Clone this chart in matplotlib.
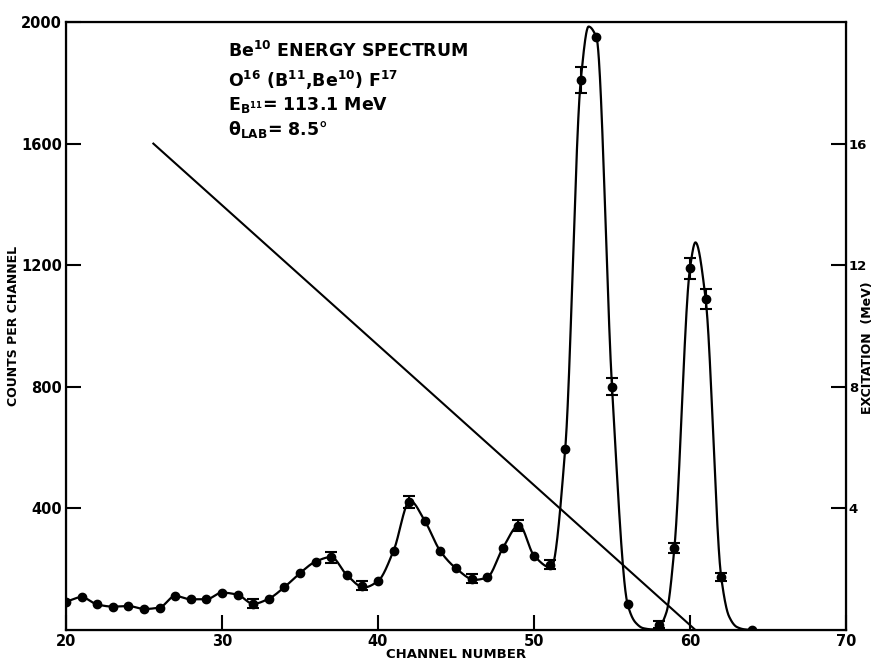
import numpy as np
import matplotlib
matplotlib.use("Agg")
import matplotlib.pyplot as plt

# ---- data ----
channels = [20, 21, 22, 23, 24, 25, 26, 27, 28, 29, 30, 31, 32, 33, 34, 35, 36, 37, 38, 39,
            40, 41, 42, 43, 44, 45, 46, 47, 48, 49, 50, 51, 52, 53, 54, 55, 56, 58, 59, 60,
            61, 62, 64]
counts = [93, 108, 84, 77, 79, 69, 74, 112, 101, 101, 123, 116, 86, 103, 141, 187, 225, 239, 181, 145,
          161, 261, 420, 359, 259, 203, 168, 173, 269, 343, 245, 215, 595, 1810, 1950, 800, 85, 18, 270, 1190,
          1090, 174, 0]

err_channels = [32, 37, 39, 42, 46, 49, 51, 53, 55, 58, 59, 60, 61, 62]
err_counts = [86, 239, 145, 420, 168, 343, 215, 1810, 800, 18, 270, 1190, 1090, 174]
err_sizes = [15, 17, 15, 20, 15, 18, 15, 42, 28, 12, 16, 34, 33, 13]

# hand-drawn fit curve knots
curve_ch = [20, 21, 22, 23, 24, 25, 26, 27, 28, 29, 30, 31, 32, 33, 34, 35, 36, 37, 38, 39.1,
            40, 41, 42.05, 43, 44, 45, 46.2, 47, 48, 49.05, 50, 51.1, 52, 53, 53.5, 54, 55, 56,
            56.5, 57, 57.6, 58, 58.5, 59, 60, 60.35, 61, 62, 62.5, 63, 63.5, 64]
curve_counts = [93, 108, 84, 77, 79, 69, 74, 112, 101, 101, 123, 116, 86, 103, 141, 187, 225, 240, 181, 140,
                161, 261, 425, 359, 259, 203, 165, 173, 269, 345, 245, 205, 595, 1810, 1985, 1950, 800, 85,
                25, 6, 2, 10, 60, 270, 1190, 1275, 1090, 174, 45, 10, 2, 0]

# excitation calibration line (channel, MeV)
calib_ch = [25.6, 60.35]
calib_mev = [16.0, 0.0]

xticks = [20, 30, 40, 50, 60, 70]
yticks = [400, 800, 1200, 1600, 2000]
rticks = [4, 8, 12, 16]


def pchip(x, y, xn):
    x = np.asarray(x, float)
    y = np.asarray(y, float)
    h = np.diff(x)
    delta = np.diff(y) / h
    n = len(x)
    d = np.zeros(n)
    for k in range(1, n - 1):
        if delta[k - 1] * delta[k] > 0:
            w1 = 2 * h[k] + h[k - 1]
            w2 = h[k] + 2 * h[k - 1]
            d[k] = (w1 + w2) / (w1 / delta[k - 1] + w2 / delta[k])
    d[0] = delta[0]
    d[-1] = delta[-1]
    idx = np.clip(np.searchsorted(x, xn) - 1, 0, n - 2)
    t = (xn - x[idx]) / h[idx]
    h00 = 2 * t**3 - 3 * t**2 + 1
    h10 = t**3 - 2 * t**2 + t
    h01 = -2 * t**3 + 3 * t**2
    h11 = t**3 - t**2
    return h00 * y[idx] + h10 * h[idx] * d[idx] + h01 * y[idx + 1] + h11 * h[idx] * d[idx + 1]


plt.rcParams['font.family'] = ['DejaVu Sans']
plt.rcParams['font.weight'] = 'bold'
plt.rcParams['mathtext.fontset'] = 'dejavusans'
plt.rcParams['mathtext.default'] = 'bf'

fig = plt.figure(figsize=(8.74, 6.65), dpi=100)
ax = fig.add_axes([66 / 874, 35 / 665, 780 / 874, 608 / 665])

xs = np.linspace(curve_ch[0], curve_ch[-1], 2000)
ys = np.clip(pchip(curve_ch, curve_counts, xs), 0, None)
ax.plot(xs, ys, color='black', lw=1.6, zorder=3)

ax.plot(channels, counts, 'o', color='black', ms=6, zorder=4)
ax.errorbar(err_channels, err_counts, yerr=err_sizes, fmt='none', ecolor='black',
            elinewidth=1.5, capsize=4, capthick=1.5, zorder=4)

ax.set_xlim(20, 70)
ax.set_ylim(0, 2000)
ax.set_xticks(xticks)
ax.set_yticks(yticks)
ax.tick_params(axis='both', direction='in', length=11, width=1.5, labelsize=10.5, pad=3)
for s in ax.spines.values():
    s.set_linewidth(1.6)

ax2 = ax.twinx()
ax2.set_ylim(0, 20)
ax2.set_yticks(rticks)
ax2.tick_params(axis='y', direction='in', length=11, width=1.5, labelsize=9.5, pad=2)
ax2.plot(calib_ch, calib_mev, color='black', lw=1.5, zorder=2)

fig.text(456 / 874, 1 - 655 / 665, 'CHANNEL NUMBER', fontsize=9.5, fontweight='bold',
         ha='center', va='center')
fig.text(14 / 874, 1 - 326 / 665, 'COUNTS PER CHANNEL', fontsize=9, fontweight='bold',
         ha='center', va='center', rotation=90)
fig.text(867 / 874, 1 - 348 / 665, 'EXCITATION  (MeV)', fontsize=9, fontweight='bold',
         ha='center', va='center', rotation=90)

tx = (228 - 66) / 780
ax.text(tx, 0.9424, r'Be$^{10}$ ENERGY SPECTRUM', transform=ax.transAxes, fontsize=12.5, va='baseline')
ax.text(tx, 0.893, r'O$^{16}$ (B$^{11}$,Be$^{10}$) F$^{17}$', transform=ax.transAxes, fontsize=12.5, va='baseline')
ax.text(tx, 0.855, r'E$_{\mathbf{B}^{11}}$= 113.1 MeV', transform=ax.transAxes, fontsize=12.5, va='baseline')
ax.text(tx, 0.814, r'$\theta_{\mathbf{LAB}}$= 8.5°', transform=ax.transAxes, fontsize=12.5, va='baseline')

fig.savefig('out.png', dpi=100)
